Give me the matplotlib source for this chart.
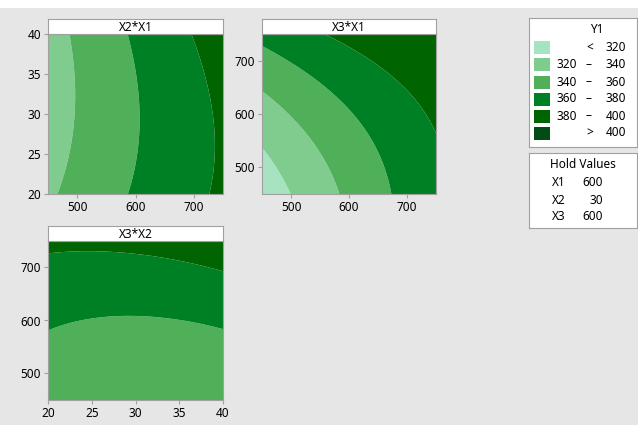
import numpy as np
import matplotlib.pyplot as plt

plt.rcParams['font.family'] = ['Noto Sans', 'DejaVu Sans']

# Quadratic response model for Y1 in coded units (each factor scaled to -1..1)
factor_names = ['X1', 'X2', 'X3']
factor_low = [450, 20, 450]
factor_high = [750, 40, 750]
hold_values = [600, 30, 600]

intercept = 358.8
linear = [25.7, 0.3, 20.6]
square = [-1.9, 3.5, 5.6]
interaction_pairs = [(0, 1), (0, 2), (1, 2)]
interaction = [2.75, -8.5, 4.0]

# contour classes
levels = [320, 340, 360, 380, 400]
level_colors = ['#a6e3c0', '#80cc8e', '#50b05a', '#008025', '#006400', '#004b16']
level_labels = ['<  320', '320 – 340', '340 – 360', '360 – 380', '380 – 400', '>  400']

# (x factor, y factor) for each panel
panels = [(0, 1), (0, 2), (1, 2)]
panel_ticks = {0: [500, 600, 700], 1: [20, 25, 30, 35, 40], 2: [500, 600, 700]}

W, H = 638, 425
frame = '#a0a0a0'


def coded(i, x):
    mid = (factor_low[i] + factor_high[i]) / 2
    half = (factor_high[i] - factor_low[i]) / 2
    return (x - mid) / half


def predict(values):
    c = [coded(i, v) for i, v in enumerate(values)]
    y = intercept
    for i in range(3):
        y = y + linear[i] * c[i] + square[i] * c[i] ** 2
    for (i, j), b in zip(interaction_pairs, interaction):
        y = y + b * c[i] * c[j]
    return y


def px_axes(fig, x0, y0, x1, y1):
    return fig.add_axes([x0 / W, (H - y1) / H, (x1 - x0) / W, (y1 - y0) / H])


fig = plt.figure(figsize=(W / 100, H / 100), dpi=100)
fig.patch.set_facecolor('white')
# gray graph region below a thin white band
fig.patches.append(plt.Rectangle((0, 0), 1, (H - 8) / H, transform=fig.transFigure,
                                 color='#e6e6e6', lw=0, zorder=-10))

# panel boxes in pixels: left, top, right, bottom
boxes = [(48, 34, 223, 194), (262, 34, 436, 194), (48, 241, 223, 400)]

for (fx, fy), (x0, y0, x1, y1) in zip(panels, boxes):
    ax = px_axes(fig, x0, y0, x1, y1)
    xs = np.linspace(factor_low[fx], factor_high[fx], 300)
    ys = np.linspace(factor_low[fy], factor_high[fy], 300)
    gx, gy = np.meshgrid(xs, ys)
    vals = [np.full_like(gx, h, dtype=float) for h in hold_values]
    vals[fx] = gx
    vals[fy] = gy
    z = predict(vals)
    ax.contourf(gx, gy, z, levels=[-1e9] + levels + [1e9], colors=level_colors,
                antialiased=True)
    ax.set_xlim(factor_low[fx], factor_high[fx])
    ax.set_ylim(factor_low[fy], factor_high[fy])
    ax.set_xticks(panel_ticks[fx])
    ax.set_yticks(panel_ticks[fy])
    ax.tick_params(labelsize=8.5, length=3, color=frame, pad=2)
    for s in ax.spines.values():
        s.set_color(frame)

    # title strip above the panel
    tax = px_axes(fig, x0, y0 - 15, x1, y0)
    tax.set_facecolor('white')
    tax.set_xticks([])
    tax.set_yticks([])
    for s in tax.spines.values():
        s.set_color(frame)
    tax.text(0.5, 0.45, f'{factor_names[fy]}*{factor_names[fx]}', ha='center',
             va='center', fontsize=8.5, transform=tax.transAxes)

# legend of contour classes
lax = px_axes(fig, 529, 18, 637, 147)
lax.set_xlim(0, 108)
lax.set_ylim(129, 0)
lax.set_facecolor('white')
lax.set_xticks([])
lax.set_yticks([])
for s in lax.spines.values():
    s.set_color(frame)
lax.text(68, 12, 'Y1', ha='center', va='center', fontsize=8.5)
for k, (col, lab) in enumerate(zip(level_colors, level_labels)):
    yc = 30 + 17 * k
    lax.add_patch(plt.Rectangle((5, yc - 6.5), 16, 13, color=col, lw=0))
    parts = lab.split()
    if len(parts) == 2:
        lax.text(61, yc, parts[0], ha='center', va='center', fontsize=8.5)
        lax.text(97, yc, parts[1], ha='right', va='center', fontsize=8.5)
    else:
        lax.text(48, yc, parts[0], ha='right', va='center', fontsize=8.5)
        lax.text(59, yc, '–', ha='center', va='center', fontsize=8.5,
                 fontweight='bold')
        lax.text(97, yc, parts[2], ha='right', va='center', fontsize=8.5)

# hold values box
hax = px_axes(fig, 529, 153, 637, 228)
hax.set_xlim(0, 108)
hax.set_ylim(75, 0)
hax.set_facecolor('white')
hax.set_xticks([])
hax.set_yticks([])
for s in hax.spines.values():
    s.set_color(frame)
hax.text(54, 12, 'Hold Values', ha='center', va='center', fontsize=8.5)
for k, (name, val) in enumerate(zip(factor_names, hold_values)):
    yc = 30 + 17 * k
    hax.text(23, yc, name, ha='left', va='center', fontsize=8.5)
    hax.text(74, yc, str(val), ha='right', va='center', fontsize=8.5)

fig.savefig('out.png', dpi=100, facecolor=fig.get_facecolor())
